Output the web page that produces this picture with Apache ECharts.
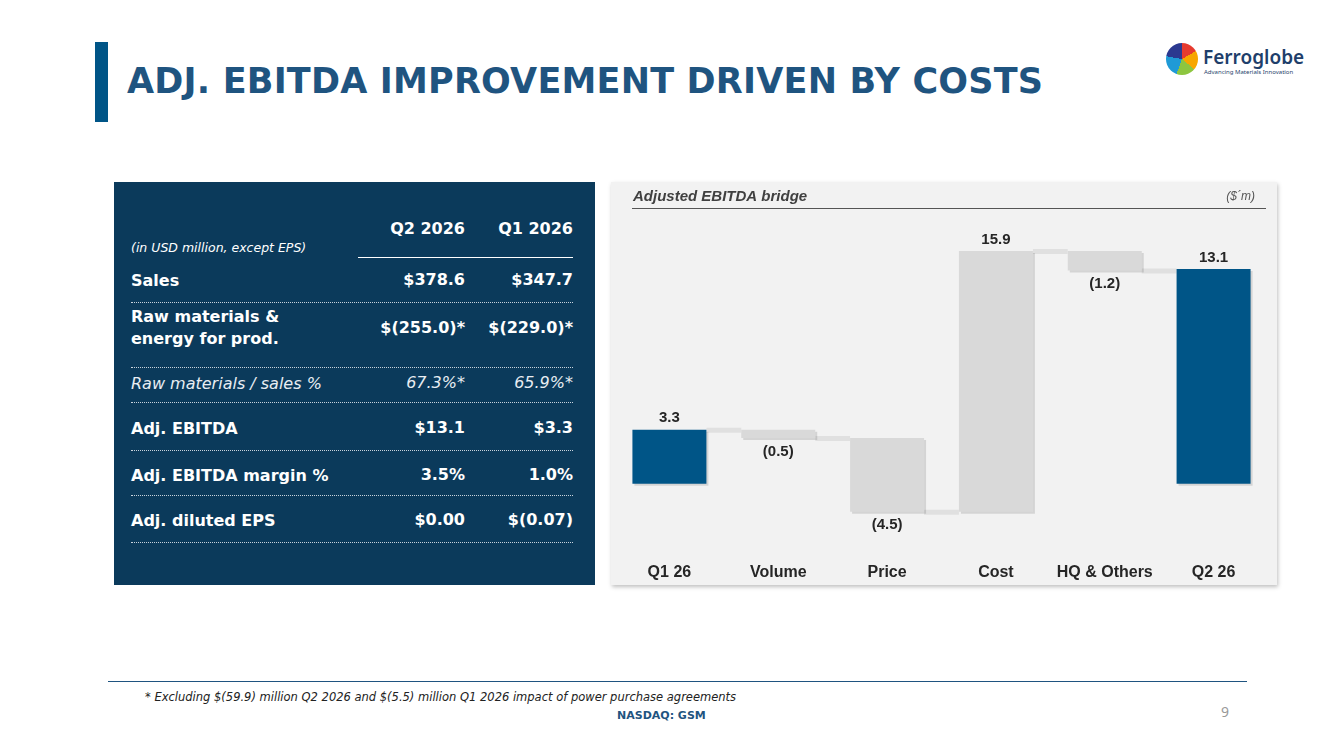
<!DOCTYPE html>
<html><head><meta charset="utf-8">
<script src="https://cdn.jsdelivr.net/npm/echarts@6/dist/echarts.min.js"></script>
<style>
body{margin:0;width:1333px;height:749px;background:#fff;font-family:"DejaVu Sans",sans-serif;position:relative;overflow:hidden}
.abs{position:absolute}
#bar{left:95px;top:42px;width:13px;height:80px;background:#005587}
#title{left:127px;top:61px;font:bold 35px "DejaVu Sans",sans-serif;color:#1f5480;letter-spacing:0.2px}
#left{left:114px;top:182px;width:481px;height:403px;background:#0b3a5b}
#right{left:611px;top:182px;width:666px;height:403px;background:#f2f2f2;box-shadow:1px 2px 4px rgba(0,0,0,0.25)}
.t{color:#fff;font-size:16px;font-weight:bold;white-space:nowrap;font-family:"DejaVu Sans",sans-serif}
.r{text-align:right}
.dl{height:0;border-top:1px dotted #c8d2dc;left:131px;width:442px}
#chart{left:611px;top:182px;width:666px;height:403px}
</style></head><body>
<div class="abs" id="bar"></div>
<div class="abs" id="title">ADJ. EBITDA IMPROVEMENT DRIVEN BY COSTS</div>
<div class="abs" style="left:1166px;top:43px;width:32px;height:32px;border-radius:50%;background:conic-gradient(#e63a2f 0 60deg,#f7a600 60deg 130deg,#8dc63f 130deg 200deg,#1f9ad6 200deg 280deg,#2b3990 280deg 360deg)"></div>
<div class="abs" style="left:1203px;top:44px;font:600 19px 'Noto Sans';color:#1f3f6b">Ferroglobe</div>
<div class="abs" style="left:1204px;top:68px;font:6px 'Noto Sans';color:#1f3f6b">Advancing Materials Innovation</div>
<div class="abs" id="left"></div>
<div class="abs" id="right"></div>
<div id="tbl"></div>
<div class="abs" id="chart"></div>
<div class="abs" style="left:108px;top:681px;width:1139px;height:1px;background:#1f5480"></div>
<div class="abs" style="left:145px;top:690px;font:italic 11.5px 'DejaVu Sans';color:#222">* Excluding $(59.9) million Q2 2026 and $(5.5) million Q1 2026 impact of power purchase agreements</div>
<div class="abs" style="left:617px;top:709px;font:bold 11px 'DejaVu Sans';color:#1f5480">NASDAQ: GSM</div>
<div class="abs" style="left:1221px;top:702px;font:14px 'Noto Sans';color:#999">9</div>
<script>
// table
const colHeads = ['Q2 2026', 'Q1 2026'];
const rowLabels = ['Sales', 'Raw materials &<br>energy for prod.', 'Raw materials / sales %', 'Adj. EBITDA', 'Adj. EBITDA margin %', 'Adj. diluted EPS'];
const q2Vals = ['$378.6', '$(255.0)*', '67.3%*', '$13.1', '3.5%', '$0.00'];
const q1Vals = ['$347.7', '$(229.0)*', '65.9%*', '$3.3', '1.0%', '$(0.07)'];
const rowMid = [281, 329, 384, 429, 476, 521];
const rowLine = [302, 367, 402, 450, 495, 542];

let h = '';
h += `<div class="abs t r" style="left:365px;top:219px;width:100px">${colHeads[0]}</div>`;
h += `<div class="abs t r" style="left:473px;top:219px;width:100px">${colHeads[1]}</div>`;
h += `<div class="abs" style="left:131px;top:240px;color:#fff;font:italic 12.5px 'DejaVu Sans'">(in USD million, except EPS)</div>`;
h += `<div class="abs" style="left:358px;top:257px;width:215px;height:1px;background:#fff"></div>`;
rowLabels.forEach((lab, i) => {
  const it = i === 2 ? 'font-weight:normal;font-style:italic;color:#e8edf2;' : '';
  const two = lab.indexOf('<br>') >= 0;
  const top = rowMid[i] - (two ? 23 : 11);
  h += `<div class="abs t" style="left:131px;top:${top}px;line-height:22px;${it}">${lab}</div>`;
  h += `<div class="abs t r" style="left:345px;top:${rowMid[i] - 11}px;width:120px;${it}">${q2Vals[i]}</div>`;
  h += `<div class="abs t r" style="left:453px;top:${rowMid[i] - 11}px;width:120px;${it}">${q1Vals[i]}</div>`;
  h += `<div class="abs dl" style="top:${rowLine[i]}px"></div>`;
});
document.getElementById('tbl').innerHTML = h;

// waterfall
const categories = ['Q1 26', 'Volume', 'Price', 'Cost', 'HQ & Others', 'Q2 26'];
const deltas = [3.3, -0.5, -4.5, 15.9, -1.2, 13.1];
const isTotal = [true, false, false, false, false, true];

let run = 0;
const bars = deltas.map((d, i) => {
  let s, e;
  if (isTotal[i]) { s = 0; e = d; run = d; }
  else { s = run; e = run + d; run = e; }
  return [i, s, e, d];
});
const links = bars.slice(0, -1).map((b, i) => [i, b[2]]);

const fmt = v => v < 0 ? '(' + Math.abs(v).toFixed(1) + ')' : v.toFixed(1);

const chart = echarts.init(document.getElementById('chart'));
chart.setOption({
  grid: { left: 4, right: 9, top: 23, height: 328 },
  graphic: [
    { type: 'text', left: 22, top: 7, style: { text: 'Adjusted EBITDA bridge', font: 'italic bold 15px Arial', fill: '#404040' } },
    { type: 'text', right: 22, top: 9, style: { text: '($´m)', font: 'italic 12px Arial', fill: '#555' } },
    { type: 'rect', shape: { x: 21, y: 26, width: 634, height: 1 }, style: { fill: '#555' } }
  ],
  xAxis: {
    type: 'category', data: categories,
    axisLine: { show: false }, axisTick: { show: false },
    axisLabel: { interval: 0, margin: 32, fontSize: 16, fontWeight: 'bold', color: '#262626', fontFamily: 'Arial' }
  },
  yAxis: { type: 'value', min: -3, max: 17, show: false, splitLine: { show: false } },
  series: [
    {
      type: 'custom', data: links, z: 1,
      renderItem: (p, api) => {
        const i = api.value(0), v = api.value(1);
        const a = api.coord([i, v]), b = api.coord([i + 1, v]);
        return { type: 'rect', shape: { x: a[0] + 37, y: a[1] - 2, width: b[0] - a[0] - 74, height: 5 }, style: { fill: '#e0e0e0' } };
      }
    },
    {
      type: 'custom', data: bars, z: 2,
      renderItem: (p, api) => {
        const i = api.value(0), s = api.value(1), e = api.value(2), d = api.value(3);
        const a = api.coord([i, Math.max(s, e)]), b = api.coord([i, Math.min(s, e)]);
        const tot = isTotal[i];
        const ly = d < 0 ? b[1] + 6 : a[1] - 4;
        return {
          type: 'group', children: [
            { type: 'rect', shape: { x: a[0] - 37 + 2, y: a[1] + 2, width: 74, height: b[1] - a[1] }, style: { fill: 'rgba(0,0,0,0.12)' } },
            { type: 'rect', shape: { x: a[0] - 37, y: a[1], width: 74, height: b[1] - a[1] }, style: { fill: tot ? '#005587' : '#d9d9d9' } },
            { type: 'text', x: a[0], y: ly, style: { text: fmt(d), font: 'bold 15px Arial', fill: '#262626', align: 'center', verticalAlign: d < 0 ? 'top' : 'bottom' } }
          ]
        };
      }
    }
  ]
});
</script>
</body></html>
